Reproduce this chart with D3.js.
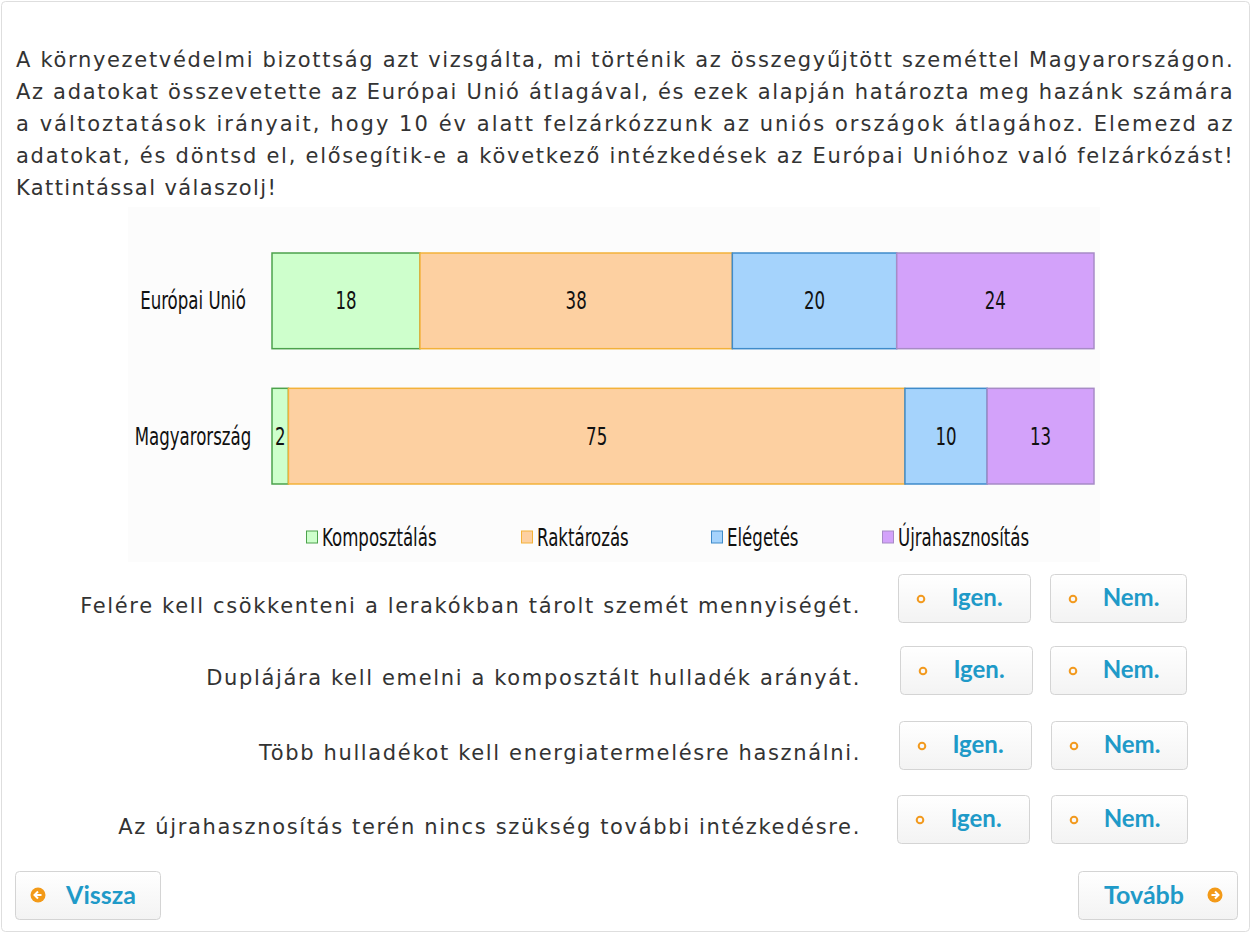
<!DOCTYPE html>
<html>
<head>
<meta charset="utf-8">
<script src="https://cdn.jsdelivr.net/npm/d3@7"></script>
<style>
  html, body { margin: 0; padding: 0; background: #fff; }
  svg { display: block; }
</style>
</head>
<body>
<div id="chart"></div>
<script>
// data
var introLines = [
  "A környezetvédelmi bizottság azt vizsgálta, mi történik az összegyűjtött szeméttel Magyarországon.",
  "Az adatokat összevetette az Európai Unió átlagával, és ezek alapján határozta meg hazánk számára",
  "a változtatások irányait, hogy 10 év alatt felzárkózzunk az uniós országok átlagához. Elemezd az",
  "adatokat, és döntsd el, elősegítik-e a következő intézkedések az Európai Unióhoz való felzárkózást!",
  "Kattintással válaszolj!"
];
var categories = ["Európai Unió", "Magyarország"];
var series = ["Komposztálás", "Raktározás", "Elégetés", "Újrahasznosítás"];
var euValues = [18, 38, 20, 24];
var huValues = [2, 75, 10, 13];
var questions = [
  "Felére kell csökkenteni a lerakókban tárolt szemét mennyiségét.",
  "Duplájára kell emelni a komposztált hulladék arányát.",
  "Több hulladékot kell energiatermelésre használni.",
  "Az újrahasznosítás terén nincs szükség további intézkedésre."
];
var answers = ["Igen.", "Nem."];
var navButtons = ["Vissza", "Tovább"];

var fills = ["#ceffcc", "#fdd0a1", "#a5d3fc", "#d3a2fa"];
var strokes = ["#4ca24c", "#f3b23a", "#3f8bca", "#a78bc6"];

var W = 1251, H = 933;
var textFont = "'DejaVu Sans', sans-serif";
var chartFont = "'DejaVu Sans Condensed', 'DejaVu Sans', sans-serif";
var btnFont = "Lato, 'Open Sans', sans-serif";
var squeeze = 0.77; // chart labels are narrow

var svg = d3.select("#chart").append("svg")
  .attr("width", W)
  .attr("height", H);

var defs = svg.append("defs");
var grad = defs.append("linearGradient")
  .attr("id", "btnGrad")
  .attr("x1", 0).attr("y1", 0).attr("x2", 0).attr("y2", 1);
grad.append("stop").attr("offset", "0%").attr("stop-color", "#ffffff");
grad.append("stop").attr("offset", "100%").attr("stop-color", "#f3f3f3");

// outer frame
svg.append("rect")
  .attr("x", 1.5).attr("y", 1.5)
  .attr("width", W - 3).attr("height", H - 3)
  .attr("rx", 4)
  .attr("fill", "#fff")
  .attr("stroke", "#dedede");

// intro paragraph (justified lines)
svg.append("g").selectAll("text")
  .data(introLines)
  .join("text")
  .attr("x", 16)
  .attr("y", function(d, i) { return 67 + i * 32; })
  .attr("font-family", textFont)
  .attr("font-size", 21)
  .attr("letter-spacing", 1.4)
  .attr("fill", "#333")
  .attr("textLength", function(d, i) { return i < 4 ? 1218 : null; })
  .attr("lengthAdjust", "spacing")
  .text(function(d) { return d; });

// chart
var chart = svg.append("g");
chart.append("rect")
  .attr("x", 128).attr("y", 207)
  .attr("width", 972).attr("height", 355)
  .attr("fill", "#fcfcfc");

var xScale = d3.scaleLinear()
  .domain([0, 100])
  .range([272, 1094]);

var yScale = d3.scaleBand()
  .domain(categories)
  .range([233.25, 503.75])
  .paddingInner(0.293)
  .paddingOuter(0.146);

var rows = [euValues, huValues].map(function(vals, r) {
  var acc = 0;
  return vals.map(function(v, i) {
    var seg = { cat: categories[r], idx: i, v: v, x0: acc, x1: acc + v };
    acc += v;
    return seg;
  });
});
var segs = d3.merge(rows);

chart.selectAll("rect.seg")
  .data(segs)
  .join("rect")
  .attr("class", "seg")
  .attr("x", function(d) { return xScale(d.x0); })
  .attr("y", function(d) { return yScale(d.cat); })
  .attr("width", function(d) { return xScale(d.x1) - xScale(d.x0); })
  .attr("height", yScale.bandwidth())
  .attr("fill", function(d) { return fills[d.idx]; })
  .attr("stroke", function(d) { return strokes[d.idx]; })
  .attr("stroke-width", 1.5);

// narrow label helper
function narrowText(sel, x, y) {
  return sel.attr("transform", function(d, i) {
    return "translate(" + x(d, i) + "," + y(d, i) + ") scale(" + squeeze + ",1)";
  })
    .attr("font-family", chartFont)
    .attr("font-size", 24)
    .attr("fill", "#111");
}

narrowText(chart.selectAll("text.val")
  .data(segs)
  .join("text")
  .attr("class", "val")
  .attr("dy", "0.36em")
  .attr("text-anchor", "middle")
  .text(function(d) { return d.v; }),
  function(d) { return (xScale(d.x0) + xScale(d.x1)) / 2; },
  function(d) { return yScale(d.cat) + yScale.bandwidth() / 2; });

narrowText(chart.selectAll("text.cat")
  .data(categories)
  .join("text")
  .attr("class", "cat")
  .attr("dy", "0.36em")
  .attr("text-anchor", "middle")
  .text(function(d) { return d; }),
  function() { return 193; },
  function(d) { return yScale(d) + yScale.bandwidth() / 2; });

// legend
var legendX = [306, 521, 711, 882];
var legend = chart.selectAll("g.leg")
  .data(series)
  .join("g")
  .attr("class", "leg")
  .attr("transform", function(d, i) { return "translate(" + legendX[i] + ",537)"; });
legend.append("rect")
  .attr("x", 0.5).attr("y", -6)
  .attr("width", 11).attr("height", 12)
  .attr("fill", function(d, i) { return fills[i]; })
  .attr("stroke", function(d, i) { return strokes[i]; });
narrowText(legend.append("text")
  .attr("dy", "0.36em")
  .text(function(d) { return d; }),
  function() { return 16; },
  function() { return 0; });

// questions
var rowY = [598, 670, 745, 819];
var igenX = [898, 900, 899, 897];
var nemX = [1050, 1050, 1051, 1051];

svg.append("g").selectAll("text")
  .data(questions)
  .join("text")
  .attr("x", 861)
  .attr("y", function(d, i) { return rowY[i] + 15; })
  .attr("text-anchor", "end")
  .attr("font-family", textFont)
  .attr("font-size", 21)
  .attr("letter-spacing", 1.65)
  .attr("fill", "#333")
  .text(function(d) { return d; });

function drawButton(g, x, y, w, h, icon, iconSide) {
  var b = g.append("g").attr("transform", "translate(" + x + "," + y + ")");
  b.append("rect")
    .attr("x", 0.5).attr("y", 0.5)
    .attr("width", w).attr("height", h)
    .attr("rx", 4)
    .attr("fill", "url(#btnGrad)")
    .attr("stroke", "#d4d4d4");
  var cx = iconSide === "right" ? w - 22 : 23;
  if (icon === "ring") {
    b.append("circle")
      .attr("cx", cx).attr("cy", h / 2 + 1)
      .attr("r", 3.3)
      .attr("fill", "none")
      .attr("stroke", "#f29a1f")
      .attr("stroke-width", 2);
  } else {
    b.append("circle")
      .attr("cx", cx).attr("cy", h / 2)
      .attr("r", 7.5)
      .attr("fill", "#f39a18");
    var dir = iconSide === "right" ? 1 : -1;
    b.append("path")
      .attr("d", "M" + (cx - 3.5 * dir) + "," + (h / 2) + "h" + (7 * dir) +
        "M" + cx + "," + (h / 2 - 3.5) + "l" + (3.5 * dir) + ",3.5l" + (-3.5 * dir) + ",3.5")
      .attr("stroke", "#fff")
      .attr("stroke-width", 2)
      .attr("fill", "none");
  }
  return b;
}

function buttonLabel(b, x, size, label) {
  b.append("text")
    .attr("x", x).attr("y", 24).attr("dy", "0.35em")
    .attr("text-anchor", "middle")
    .attr("font-family", btnFont).attr("font-weight", "bold")
    .attr("font-size", size).attr("fill", "#1f9ac8")
    .text(label);
}

var btns = svg.append("g");
questions.forEach(function(q, i) {
  var b1 = drawButton(btns, igenX[i], rowY[i] - 24, 132, 48, "ring", "left");
  buttonLabel(b1, 79, 24, answers[0]);
  var b2 = drawButton(btns, nemX[i], rowY[i] - 24, 136, 48, "ring", "left");
  buttonLabel(b2, 81, 24, answers[1]);
});

var back = drawButton(btns, 15, 871, 145, 48, "arrow", "left");
buttonLabel(back, 86, 25, navButtons[0]);

var next = drawButton(btns, 1078, 871, 159, 48, "arrow", "right");
buttonLabel(next, 66, 25, navButtons[1]);
</script>
</body>
</html>
